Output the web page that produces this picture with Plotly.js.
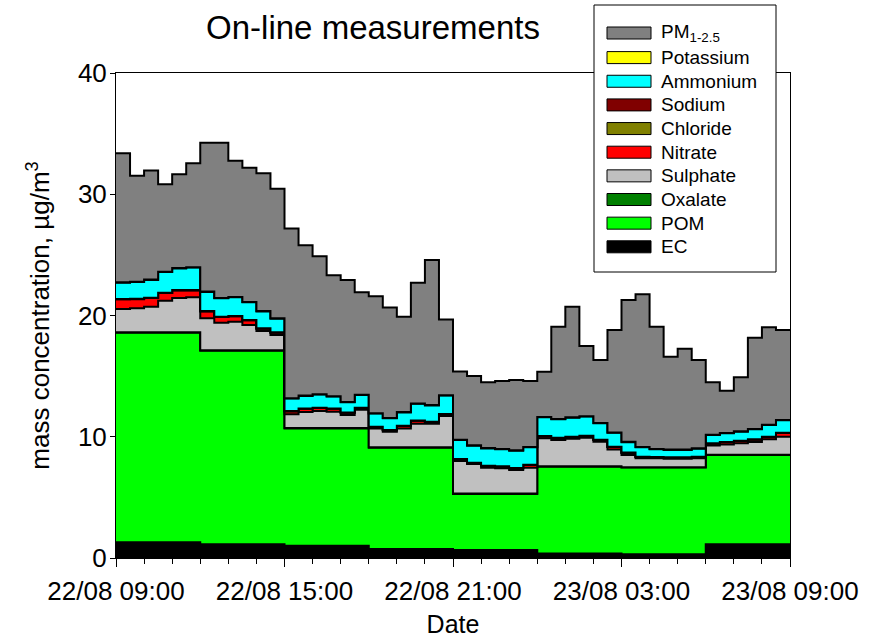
<!DOCTYPE html>
<html><head><meta charset="utf-8">
<script src="https://cdn.plot.ly/plotly-3.0.1.min.js"></script>
<style>html,body{margin:0;padding:0;background:#fff}</style>
</head><body><div id="chart" style="width:875px;height:640px"></div>
<script>
// ---- data (µg/m3), half-hourly from 22/08 09:00 to 23/08 09:00 ----
const tickHours = [0, 6, 12, 18, 24];
const tickLabels = ['22/08 09:00', '22/08 15:00', '22/08 21:00', '23/08 03:00', '23/08 09:00'];
const stepHours = 0.5;

// 3-hourly species
const ec3h  = [1.29, 1.13, 1.02, 0.74, 0.66, 0.38, 0.30, 1.13];
const pom3h = [17.29, 15.97, 9.67, 8.36, 4.62, 7.15, 7.16, 7.36];

// half-hourly species
const oxalate = [0.03,0.03,0.03,0.03,0.03,0.03, 0.03,0.03,0.03,0.03,0.03,0.03, 0.03,0.03,0.03,0.03,0.03,0.03, 0.03,0.03,0.03,0.03,0.03,0.03,
                 0.03,0.03,0.03,0.03,0.03,0.03, 0.03,0.03,0.03,0.03,0.03,0.03, 0.03,0.03,0.03,0.03,0.03,0.03, 0.03,0.03,0.03,0.03,0.03,0.03];
const sulphate = [1.93,1.98,2.12,2.61,2.83,2.89, 2.64,2.28,2.36,2.09,1.59,1.26, 1.13,1.32,1.40,1.35,1.07,1.51, 1.56,1.29,1.56,1.95,1.95,2.58,
                  2.69,2.44,2.14,2.09,1.95,2.14, 2.31,2.17,2.28,2.36,2.03,1.39, 1.00,0.73,0.73,0.70,0.70,0.73, 0.75,0.85,0.94,1.05,1.27,1.49];
const nitrate = [0.79,0.76,0.71,0.63,0.63,0.57, 0.57,0.46,0.44,0.38,0.19,0.19, 0.24,0.27,0.25,0.24,0.19,0.14, 0.11,0.11,0.19,0.24,0.13,0.14,
                 0.13,0.08,0.13,0.13,0.13,0.22, 0.16,0.16,0.14,0.14,0.14,0.20, 0.18,0.11,0.08,0.08,0.08,0.11, 0.16,0.17,0.19,0.19,0.19,0.30];
const chloride = [0.01,0.01,0.01,0.01,0.01,0.01, 0.01,0.01,0.01,0.01,0.01,0.01, 0.01,0.01,0.01,0.01,0.01,0.01, 0.01,0.01,0.01,0.01,0.01,0.01,
                  0.01,0.01,0.01,0.01,0.01,0.01, 0.01,0.01,0.01,0.01,0.01,0.01, 0.01,0.01,0.01,0.01,0.01,0.01, 0.01,0.01,0.01,0.01,0.01,0.01];
const sodium = [0.02,0.02,0.02,0.02,0.02,0.02, 0.02,0.02,0.02,0.02,0.02,0.02, 0.02,0.02,0.02,0.02,0.02,0.02, 0.02,0.02,0.02,0.02,0.02,0.02,
                0.02,0.02,0.02,0.02,0.02,0.02, 0.02,0.02,0.02,0.02,0.02,0.02, 0.02,0.02,0.02,0.02,0.02,0.02, 0.02,0.02,0.02,0.02,0.02,0.02];
const ammonium = [1.35,1.38,1.46,1.70,1.78,1.85, 1.57,1.52,1.54,1.46,1.40,1.13, 1.03,1.03,1.08,0.98,0.83,1.04, 1.08,0.96,1.10,1.37,1.34,1.52,
                  1.57,1.40,1.43,1.40,1.43,1.43, 1.54,1.52,1.56,1.57,1.35,1.15, 0.85,0.77,0.63,0.61,0.61,0.66, 0.68,0.71,0.74,0.82,0.96,1.02];
const potassium = [0.03,0.03,0.03,0.03,0.03,0.03, 0.03,0.03,0.03,0.03,0.03,0.03, 0.03,0.03,0.03,0.03,0.03,0.03, 0.03,0.03,0.03,0.03,0.03,0.03,
                   0.03,0.03,0.03,0.03,0.03,0.03, 0.03,0.03,0.03,0.03,0.03,0.03, 0.03,0.03,0.03,0.03,0.03,0.03, 0.03,0.03,0.03,0.03,0.03,0.03];
const pm1to25 = [10.64,8.74,8.99,7.21,7.73,8.57, 12.28,12.80,11.24,11.07,11.36,10.69, 14.00,12.39,11.37,9.96,10.06,8.44, 9.64,9.12,7.86,9.96,11.97,6.23,
                 5.62,5.72,5.43,5.61,5.80,5.44, 3.74,7.61,9.13,5.79,5.19,8.44, 11.70,12.60,10.09,7.66,8.32,7.28, 4.32,3.49,4.45,7.53,8.03,7.41];

const seriesNames = ['EC', 'POM', 'Oxalate', 'Sulphate', 'Nitrate', 'Chloride', 'Sodium', 'Ammonium', 'Potassium', 'PM<sub>1-2.5</sub>'];
const seriesColors = ['#000000', '#00FF00', '#008000', '#C0C0C0', '#FF0000', '#808000', '#800000', '#00FFFF', '#FFFF00', '#808080'];

// ---- build stacked step traces ----
const n = sulphate.length;
const expand3h = arr => arr.flatMap(v => Array(6).fill(v));
const series = [expand3h(ec3h), expand3h(pom3h), oxalate, sulphate, nitrate, chloride, sodium, ammonium, potassium, pm1to25];
const xs = Array.from({length: n + 1}, (_, i) => i * stepHours);
let cum = Array(n).fill(0);
const traces = series.map((s, idx) => {
  cum = cum.map((c, i) => c + s[i]);
  const y = cum.concat([cum[n - 1]]);
  return {
    x: xs, y: y, type: 'scatter', mode: 'lines', name: seriesNames[idx],
    line: {shape: 'hv', color: '#000000', width: 2},
    fill: idx === 0 ? 'tozeroy' : 'tonexty', fillcolor: seriesColors[idx],
    hoverinfo: 'skip', showlegend: false
  };
});

// ---- layout ----
const L = 116, R = 790, T = 73, B = 558;
const px = v => (v - L) / (R - L);
const py = v => (B - v) / (B - T);
const FONT = 'Liberation Sans, Arial, sans-serif';

const shapes = [{type: 'rect', xref: 'paper', yref: 'paper', x0: px(594), x1: px(776), y0: py(5), y1: py(272),
                 line: {color: '#000', width: 1}, fillcolor: '#fff', layer: 'above'}];
const annotations = [];
const legendOrder = seriesNames.map((_, i) => i).reverse();
legendOrder.forEach((si, row) => {
  const yc = row === 0 ? 33 : 57.6 + (row - 1) * 23.65;
  shapes.push({type: 'rect', xref: 'paper', yref: 'paper', x0: px(607), x1: px(651), y0: py(yc + 6), y1: py(yc - 6),
               line: {color: '#000', width: 1}, fillcolor: seriesColors[si], layer: 'above'});
  annotations.push({xref: 'paper', yref: 'paper', x: px(659), y: py(yc), xanchor: 'left', yanchor: 'middle',
                    text: seriesNames[si], showarrow: false, font: {family: FONT, size: 19, color: '#000'}});
});

const layout = {
  width: 875, height: 640,
  margin: {l: L, r: 875 - R, t: T, b: 640 - B},
  paper_bgcolor: '#fff', plot_bgcolor: '#fff',
  font: {family: FONT, color: '#000'},
  title: {text: 'On-line measurements', x: 373 / 875, xanchor: 'center', xref: 'container',
          y: 1 - 27 / 640, yanchor: 'middle', yref: 'container', font: {family: FONT, size: 33, color: '#000'}},
  xaxis: {range: [0, 24], tickmode: 'array', tickvals: tickHours, ticktext: tickLabels,
          ticks: 'outside', ticklen: 8, tickwidth: 1, tickcolor: '#000', ticklabelstandoff: 2,
          minor: {dtick: 1, tick0: 0, ticks: 'outside', ticklen: 5, tickwidth: 1, tickcolor: '#000'},
          showline: true, linecolor: '#000', linewidth: 1, mirror: true, showgrid: false, zeroline: false,
          tickfont: {family: FONT, size: 26, color: '#000'},
          title: {text: 'Date', font: {family: FONT, size: 25, color: '#000'}, standoff: 10}},
  yaxis: {range: [0, 40], tickmode: 'linear', tick0: 0, dtick: 10,
          ticks: 'outside', ticklen: 5, tickwidth: 1, tickcolor: '#000', ticklabelstandoff: -2,
          showline: true, linecolor: '#000', linewidth: 1, mirror: true, showgrid: false, zeroline: false,
          tickfont: {family: FONT, size: 26, color: '#000'},
          title: {text: 'mass concentration, µg/m<sup>3</sup>', font: {family: FONT, size: 26, color: '#000'}, standoff: 20}},
  shapes: shapes,
  annotations: annotations,
  showlegend: false
};

Plotly.newPlot('chart', traces, layout, {displayModeBar: false, staticPlot: true});
</script>
</body></html>
